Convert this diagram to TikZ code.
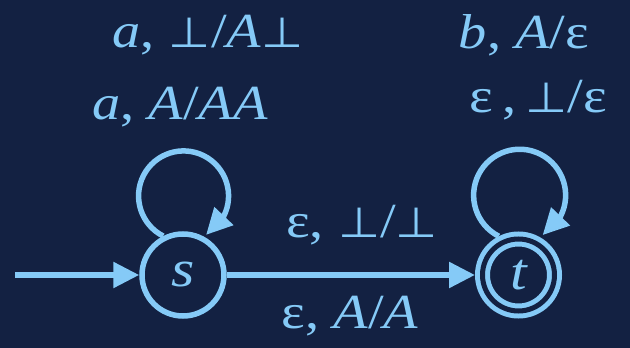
\documentclass[tikz,border=0pt]{standalone}
\usepackage{fontspec}
\setmainfont{Liberation Serif}
\newfontfamily\djsans{DejaVu Sans}
\usetikzlibrary{arrows.meta,bending}
\definecolor{bgc}{RGB}{19,33,66}
\definecolor{fgc}{RGB}{133,202,247}
\newcommand\bt{{\djsans\fontsize{42}{42}\selectfont ⊥}}
\newcommand\wide[1]{\scalebox{1.15}[1]{#1}}
\begin{document}
\begin{tikzpicture}[x=1pt,y=1pt,
  every path/.style={line width=5.5pt},
  tip/.style={-{Triangle[length=26pt,width=25pt,flex]}},
  state/.style={circle,draw=fgc,line width=5.5pt,minimum size=82pt,inner sep=0pt,text=fgc,
    font=\fontsize{52}{54}\selectfont\itshape},
  accept/.style={circle,draw=fgc,line width=5pt,double=bgc,double distance=5pt,minimum size=72pt,
    inner sep=0pt,outer sep=7.5pt,text=fgc,font=\fontsize{52}{54}\selectfont\itshape},
  lab/.style={text=fgc,inner sep=0pt,anchor=base,font=\fontsize{49}{50}\selectfont}]
\fill[bgc] (0,0) rectangle (630,348);
\useasboundingbox (0,0) rectangle (630,348);
\node[state] (s) at (183,73) {\wide{s}};
\node[accept] (t) at (518.5,73) {\wide{t}};
\coordinate (init) at (15,73);
\draw[fgc,tip] (init) -- (s);
\draw[fgc,tip] (s) -- (t);
\draw[fgc,tip] (s.117) arc[start angle=243,end angle=-60,radius=45];
\draw[fgc,tip] (t.117) arc[start angle=243,end angle=-60,radius=46];
\node[lab] (l1) at (208,300) {\wide{\textit{a}, \bt/\textit{A}\bt}};
\node[lab] (l2) at (180,228) {\wide{\textit{a}, \textit{A}/\textit{AA}}};
\node[lab] (l3) at (524,299) {\wide{\textit{b}, \textit{A}/ε}};
\node[lab] (l4) at (538,235) {\wide{ε\,,\,\bt/ε}};
\node[lab] (l5) at (362,110) {\wide{ε, \bt/\bt}};
\node[lab] (l6) at (350,19) {\wide{ε, \textit{A}/\textit{A}}};
\end{tikzpicture}
\end{document}
